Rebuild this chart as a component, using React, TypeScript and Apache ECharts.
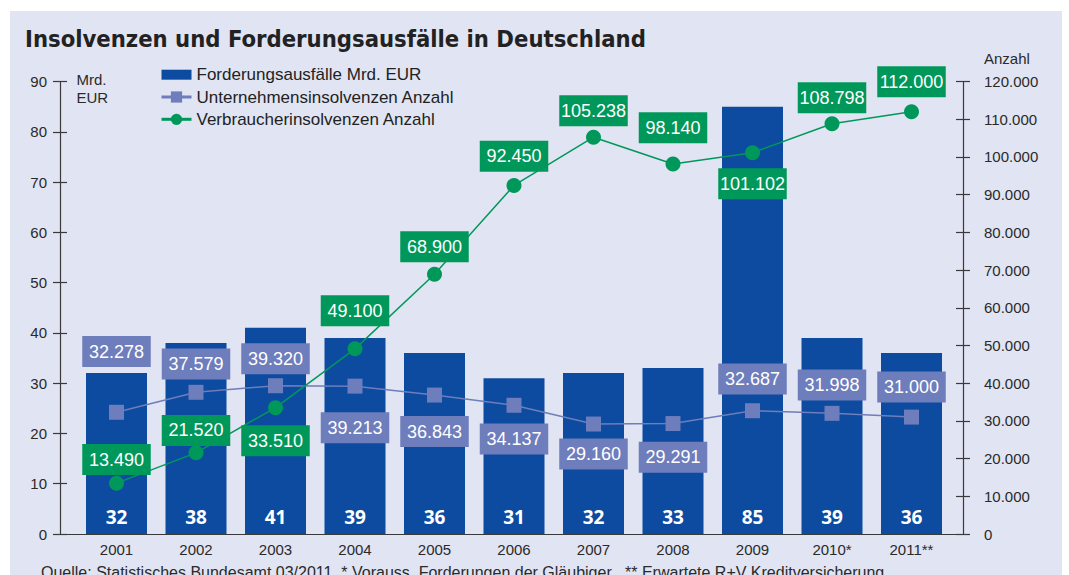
import React, { useEffect, useRef } from "react";
import * as echarts from "echarts";

// ---- Data ----
const years = ["2001", "2002", "2003", "2004", "2005", "2006", "2007", "2008", "2009", "2010*", "2011**"];
const forderungsausfaelle = [32, 38, 41, 39, 36, 31, 32, 33, 85, 39, 36];
const unternehmensinsolvenzen = [32278, 37579, 39320, 39213, 36843, 34137, 29160, 29291, 32687, 31998, 31000];
const verbraucherinsolvenzen = [13490, 21520, 33510, 49100, 68900, 92450, 105238, 98140, 101102, 108798, 112000];

const leftAxisMax = 90;
const leftAxisStep = 10;
const rightAxisMax = 120000;
const rightAxisStep = 10000;

const seriesNames = [
  "Forderungsausfälle Mrd. EUR",
  "Unternehmensinsolvenzen Anzahl",
  "Verbraucherinsolvenzen Anzahl",
];

// ---- Styling (label placement offsets, px) ----
const unternehmenLabelDy = [-60.7, -28.3, -26.9, 41.7, 36.5, 33.6, 30, 33.8, -31.7, -28.3, -30.2];
const verbraucherLabelDy = [-23.6, -22.4, 33, -38, -27.4, -29.2, -26.4, -36.2, 31, -26, -30];

const BAR = "#0c4b9f";
const LAV = "#6e7dbb";
const GREEN = "#00985a";
const TXT = "#2a2a2a";
const FONT = "'Liberation Sans', Arial, Helvetica, sans-serif";

const fmt = (v: number) => String(v).replace(/\B(?=(\d{3})+(?!\d))/g, ".");

const boxLabel = (bg: string) => ({
  show: true,
  position: "inside",
  color: "#fff",
  fontFamily: FONT,
  fontSize: 18,
  lineHeight: 19,
  backgroundColor: bg,
  width: 68.5,
  padding: [6, 0, 6, 0],
  align: "center",
  textBorderWidth: 0,
  formatter: (p: any) => fmt(p.value),
});

export default function App() {
  const ref = useRef<HTMLDivElement>(null);

  useEffect(() => {
    if (!ref.current) return;
    const chart = echarts.init(ref.current, null, { renderer: "svg" });

    const axisLineStyle = { color: "#3a3a3a", width: 1.2 };

    const option: any = {
      animation: false,
      backgroundColor: "transparent",
      grid: [
        { left: 60, right: 106, top: 81.5, bottom: 41 },
        { left: 76.75, right: 117.75, top: 81.5, bottom: 41 },
      ],
      legend: {
        left: 160,
        top: 66.2,
        orient: "vertical",
        padding: 0,
        itemWidth: 30,
        itemHeight: 14,
        itemGap: 5.3,
        textStyle: { fontFamily: FONT, fontSize: 17, lineHeight: 17, color: "#222" },
        data: [
          { name: seriesNames[0], icon: "path://M0 0H30V10H0Z" },
          { name: seriesNames[1], lineStyle: { width: 3 } },
          { name: seriesNames[2], lineStyle: { width: 3 } },
        ],
      },
      xAxis: [
        {
          gridIndex: 0,
          type: "value",
          min: 0,
          max: 1,
          axisLine: { show: true, lineStyle: axisLineStyle },
          axisTick: { show: false },
          axisLabel: { show: false },
          splitLine: { show: false },
        },
        {
          gridIndex: 1,
          type: "category",
          data: years,
          axisLine: { show: false },
          axisTick: { show: false },
          axisLabel: { margin: 8, fontFamily: FONT, fontSize: 15, color: TXT },
        },
      ],
      yAxis: [
        {
          gridIndex: 0,
          type: "value",
          position: "left",
          min: 0,
          max: leftAxisMax,
          interval: leftAxisStep,
          axisLine: { show: true, lineStyle: axisLineStyle },
          axisTick: { show: true, length: 7, lineStyle: axisLineStyle },
          axisLabel: { margin: 13, fontFamily: FONT, fontSize: 15, color: TXT },
          splitLine: { show: false },
        },
        {
          gridIndex: 0,
          type: "value",
          position: "left",
          min: 0,
          max: leftAxisMax,
          interval: leftAxisStep,
          axisLine: { show: false },
          axisTick: { show: true, inside: true, length: 7, lineStyle: axisLineStyle },
          axisLabel: { show: false },
          splitLine: { show: false },
        },
        {
          gridIndex: 0,
          type: "value",
          position: "right",
          min: 0,
          max: rightAxisMax,
          interval: rightAxisStep,
          axisLine: { show: true, lineStyle: axisLineStyle },
          axisTick: { show: true, length: 7, lineStyle: axisLineStyle },
          axisLabel: {
            margin: 21,
            fontFamily: FONT,
            fontSize: 15,
            color: TXT,
            formatter: (v: number) => fmt(v),
          },
          splitLine: { show: false },
        },
        {
          gridIndex: 0,
          type: "value",
          position: "right",
          min: 0,
          max: rightAxisMax,
          interval: rightAxisStep,
          axisLine: { show: false },
          axisTick: { show: true, inside: true, length: 7, lineStyle: axisLineStyle },
          axisLabel: { show: false },
          splitLine: { show: false },
        },
        { gridIndex: 1, type: "value", min: 0, max: leftAxisMax, show: false },
        { gridIndex: 1, type: "value", min: 0, max: rightAxisMax, show: false },
      ],
      series: [
        {
          name: seriesNames[0],
          type: "bar",
          xAxisIndex: 1,
          yAxisIndex: 4,
          barWidth: 61,
          itemStyle: { color: BAR },
          data: forderungsausfaelle,
          label: {
            show: true,
            position: "insideBottom",
            distance: 8,
            color: "#fff",
            fontFamily: "'Open Sans', sans-serif",
            fontWeight: "bold",
            fontSize: 19,
            textBorderWidth: 0,
          },
        },
        {
          name: seriesNames[1],
          type: "line",
          xAxisIndex: 1,
          yAxisIndex: 5,
          symbol: "rect",
          symbolSize: 15,
          itemStyle: { color: LAV },
          lineStyle: { color: LAV, width: 1.5 },
          label: boxLabel(LAV),
          data: unternehmensinsolvenzen.map((v, i) => ({
            value: v,
            label: { offset: [0, unternehmenLabelDy[i]] },
          })),
        },
        {
          name: seriesNames[2],
          type: "line",
          xAxisIndex: 1,
          yAxisIndex: 5,
          symbol: "circle",
          symbolSize: 15,
          itemStyle: { color: GREEN },
          lineStyle: { color: GREEN, width: 1.5 },
          label: boxLabel(GREEN),
          data: verbraucherinsolvenzen.map((v, i) => ({
            value: v,
            label: { offset: [0, verbraucherLabelDy[i]] },
          })),
        },
      ],
      graphic: [
        {
          type: "text",
          left: 25,
          top: 27,
          style: {
            text: "Insolvenzen und Forderungsausfälle in Deutschland",
            fontFamily: "'Liberation Sans Narrow', 'DejaVu Sans Condensed', sans-serif",
            fontWeight: "bold",
            fontSize: 23.6,
            fill: "#222",
          },
        },
        {
          type: "text",
          x: 76.5,
          y: 79,
          style: { text: "Mrd.", fontFamily: FONT, fontSize: 15, fill: TXT, verticalAlign: "middle" },
        },
        {
          type: "text",
          x: 76.5,
          y: 97.5,
          style: { text: "EUR", fontFamily: FONT, fontSize: 15, fill: TXT, verticalAlign: "middle" },
        },
        {
          type: "text",
          x: 984,
          y: 58,
          style: { text: "Anzahl", fontFamily: FONT, fontSize: 15, fill: TXT, verticalAlign: "middle" },
        },
        {
          type: "text",
          x: 41,
          y: 572,
          style: {
            text:
              "Quelle: Statistisches Bundesamt 03/2011  * Vorauss. Forderungen der Gläubiger   ** Erwartete R+V Kreditversicherung",
            fontFamily: FONT,
            fontSize: 16,
            fill: TXT,
            verticalAlign: "middle",
          },
        },
      ],
    };

    chart.setOption(option);
    return () => chart.dispose();
  }, []);

  return (
    <div style={{ position: "fixed", left: 0, top: 0, width: 1069, height: 575, background: "#fff", overflow: "hidden" }}>
      <div style={{ position: "absolute", left: 10, top: 11, width: 1052, height: 564, background: "#e1e4f2" }} />
      <div ref={ref} style={{ position: "absolute", left: 0, top: 0, width: 1069, height: 575 }} />
    </div>
  );
}
